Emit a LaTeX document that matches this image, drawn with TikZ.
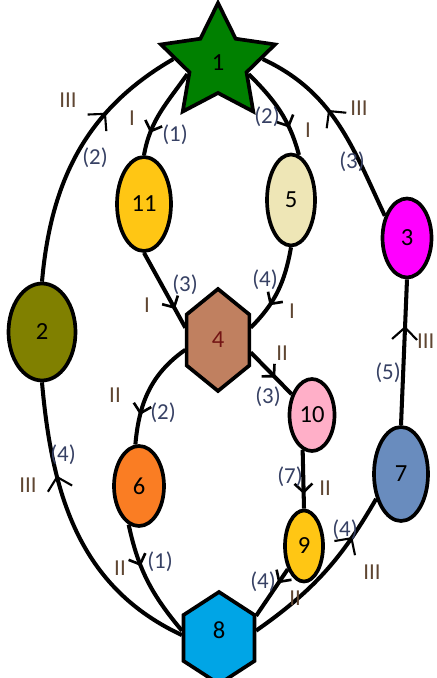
\documentclass[tikz,border=0pt]{standalone}
\usepackage{fontspec}
\setmainfont{Carlito}
\usetikzlibrary{arrows.meta,shapes.geometric,decorations.markings}
\definecolor{cone}{RGB}{0,128,0}
\definecolor{ctwo}{RGB}{128,128,0}
\definecolor{cthree}{RGB}{255,0,255}
\definecolor{cfour}{RGB}{192,128,96}
\definecolor{cfive}{RGB}{238,230,182}
\definecolor{csix}{RGB}{250,125,35}
\definecolor{cseven}{RGB}{105,140,190}
\definecolor{ceight}{RGB}{0,165,230}
\definecolor{cnine}{RGB}{255,198,20}
\definecolor{cten}{RGB}{255,175,200}
\definecolor{celeven}{RGB}{255,198,20}
\definecolor{numred}{RGB}{115,20,20}
\definecolor{labnavy}{RGB}{55,65,100}
\definecolor{labbrown}{RGB}{95,70,50}
\tikzset{
  tnode/.style={ellipse, draw=black, line width=2.1pt, inner sep=0pt,
                font=\fontsize{14}{16}\selectfont},
  thex/.style ={regular polygon, regular polygon sides=6, shape border rotate=30,
                draw=black, line width=2.1pt, inner sep=0pt},
  tstar/.style={star, star points=5, star point ratio=2.0, draw=black,
                line width=2.1pt, inner sep=0pt, font=\fontsize{14}{16}\selectfont},
  tnum/.style ={inner sep=0pt, font=\fontsize{14}{16}\selectfont},
  tline/.style={line width=2.3pt, black},
  tflow/.style={tline, postaction={decorate}, decoration={markings,
                mark=at position #1 with {\arrow{Straight Barb[length=1.7mm, width=3.6mm, line width=1.5pt]}}}},
  tret/.style ={tline, postaction={decorate}, decoration={markings,
                mark=at position #1 with {\arrow{Straight Barb[length=2.4mm, width=5mm, line width=1.2pt]}}}},
  tcount/.style={inner sep=1pt, text=labnavy, font=\fontsize{13}{15}\selectfont},
  troman/.style={inner sep=1pt, text=labbrown, font=\fontsize{13}{15}\selectfont},
}
\begin{document}
\begin{tikzpicture}[x=0.02cm, y=-0.02cm]
    \useasboundingbox (0,0) rectangle (436,678);
    % nodes
    \node[tstar, fill=cone, minimum size=2.4cm] (n1) at (218,63) {1};
    \node[tnode, fill=celeven, minimum width=1.08cm, minimum height=1.88cm] (n11) at (144,204) {11};
    \node[tnode, fill=cfive, minimum width=0.96cm, minimum height=1.82cm] (n5) at (291,200) {5};
    \node[tnode, fill=cthree, minimum width=0.98cm, minimum height=1.58cm] (n3) at (407,238) {3};
    \node[tnode, fill=ctwo, minimum width=1.34cm, minimum height=1.94cm] (n2) at (42,332) {2};
    \node[thex, fill=cfour, minimum size=2.04cm, xscale=0.71] (n4) at (218,340) {};
    \node[tnum, text=numred] (n4t) at (n4) {4};
    \node[tnode, fill=cten, minimum width=0.9cm, minimum height=1.44cm] (n10) at (312,415) {10};
    \node[tnode, fill=csix, minimum width=1.0cm, minimum height=1.6cm] (n6) at (139,486) {6};
    \node[tnode, fill=cnine, minimum width=0.76cm, minimum height=1.42cm] (n9) at (304,546) {9};
    \node[tnode, fill=cseven, minimum width=1.08cm, minimum height=1.88cm] (n7) at (401,474) {7};
    \node[thex, fill=ceight, minimum size=1.84cm, xscale=0.89] (n8) at (219,638) {};
    \node[tnum] (n8t) at (219,630) {8};
    % path III (outer ring)
    \draw[tret=0.68] (n2.north) to[out=85, in=210] (n1.175);
    \draw[tret=0.69] (n8.176) to[out=155, in=275] (n2.south);
    \draw[tret=0.59] (n3.135) to[out=115, in=-25] (n1.5);
    \draw[tret=0.68] (n7.north) -- (n3.south);
    \draw[tret=0.75] (n8.10) to[out=35, in=240] (n7.225);
    % path I
    \draw[tflow=0.75] (n1.200) to[out=235, in=80] (n11.north);
    \draw[tflow=0.7] (n1.340) to[out=-45, in=105] (n5.80);
    \draw[tflow=0.75] (n11.south) -- (n4.165);
    \draw[tflow=0.68] (n5.south) to[out=260, in=45] (n4.15);
    % path II
    \draw[tflow=0.73] (n4.192) to[out=215, in=85] (n6.95);
    \draw[tflow=0.6] (n4.345) -- (n10);
    \draw[tflow=0.75] (n10.255) -- (n9.north);
    \draw[tflow=0.36] (n6.255) to[out=-78, in=130] (n8.170);
    \draw[tflow=0.3] (n9.235) -- (n8.28);
    % labels
    \node[troman] (r21) at (68,100) {III};
    \node[tcount] (k21) at (95,158) {(2)};
    \node[troman] (r111) at (132,118) {I};
    \node[tcount] (k111) at (175,135) {(1)};
    \node[tcount] (k15) at (267,117) {(2)};
    \node[troman] (r15) at (308,130) {I};
    \node[troman] (r31) at (359,108) {III};
    \node[tcount] (k31) at (352,162) {(3)};
    \node[troman] (r114) at (147,305) {I};
    \node[tcount] (k114) at (185,285) {(3)};
    \node[tcount] (k54) at (265,280) {(4)};
    \node[troman] (r54) at (292,311) {I};
    \node[troman] (r46) at (115,395) {II};
    \node[tcount] (k46) at (163,413) {(2)};
    \node[troman] (r410) at (282,353) {II};
    \node[tcount] (k410) at (268,397) {(3)};
    \node[troman, anchor=west] (r73) at (415,341) {III};
    \node[tcount] (k73) at (388,373) {(5)};
    \node[troman] (r82) at (28,485) {III};
    \node[tcount] (k82) at (63,455) {(4)};
    \node[troman] (r68) at (120,568) {II};
    \node[tcount] (k68) at (160,562) {(1)};
    \node[tcount] (k109) at (290,477) {(7)};
    \node[troman] (r109) at (325,488) {II};
    \node[tcount] (k87) at (345,530) {(4)};
    \node[troman] (r87) at (372,572) {III};
    \node[tcount] (k98) at (263,582) {(4)};
    \node[troman] (r98) at (295,598) {II};
\end{tikzpicture}
\end{document}
